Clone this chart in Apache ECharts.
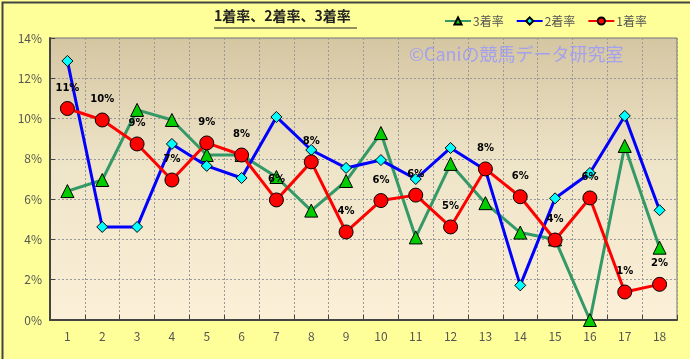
<!DOCTYPE html>
<html><head><meta charset="utf-8">
<script src="https://cdn.jsdelivr.net/npm/echarts@6/dist/echarts.min.js"></script>
<style>html,body{margin:0;padding:0;background:#FFFF99;}#c{width:690px;height:359px;}</style>
</head><body><div id="c"></div>
<script>
const categories = ['1','2','3','4','5','6','7','8','9','10','11','12','13','14','15','16','17','18'];
const win = [10.5, 9.93, 8.74, 6.95, 8.79, 8.19, 5.96, 7.85, 4.37, 5.93, 6.2, 4.62, 7.5, 6.12, 3.97, 6.06, 1.39, 1.77];
const second = [12.86, 4.62, 4.62, 8.74, 7.65, 7.05, 10.08, 8.44, 7.55, 7.94, 7.0, 8.54, 7.45, 1.72, 6.04, 7.3, 10.13, 5.45];
const third = [6.4, 6.95, 10.43, 9.93, 8.19, 8.19, 7.1, 5.43, 6.9, 9.28, 4.1, 7.75, 5.8, 4.34, 4.0, 0, 8.64, 3.59];
const yTicks = [0, 2, 4, 6, 8, 10, 12, 14];

const chart = echarts.init(document.getElementById('c'), null, {renderer: 'canvas'});
const font = '"Noto Sans CJK JP", "DejaVu Sans", sans-serif';
chart.setOption({
  animation: false,
  backgroundColor: '#FFFF99',
  textStyle: {fontFamily: font},
  graphic: [
    {type: 'rect', left: 0, top: 0, shape: {width: 689, height: 358}, style: {fill: 'none', stroke: '#444', lineWidth: 2}, z: 100},
    {type: 'text', left: 214, top: 9, style: {text: '1着率、2着率、3着率', font: 'bold 14px ' + font, fill: '#222'}},
    {type: 'line', shape: {x1: 214, y1: 28, x2: 357, y2: 28}, style: {stroke: '#222', lineWidth: 1}},
    {type: 'text', left: 409, top: 45, z: 1, style: {text: '©Caniの競馬データ研究室', font: '18px ' + font, fill: 'rgba(150,150,255,0.8)'}}
  ],
  legend: {
    right: 38, top: 10, itemWidth: 26, itemHeight: 9, itemGap: 12,
    textStyle: {fontSize: 12, color: '#555', fontFamily: font, padding: [0, 0, 0, -3]},
    data: ['3着率', '2着率', '1着率']
  },
  grid: {
    left: 50, right: 13, top: 38, bottom: 39, show: true, borderColor: '#777', borderWidth: 1,
    backgroundColor: {type: 'linear', x: 0, y: 0, x2: 0, y2: 1, colorStops: [
      {offset: 0, color: '#D5C6A2'}, {offset: 0.45, color: '#EEE4C8'}, {offset: 1, color: '#FCF0D8'}]}
  },
  xAxis: {
    type: 'category', data: categories, boundaryGap: true,
    axisLine: {lineStyle: {color: '#444', width: 2}},
    axisTick: {show: true, inside: true, length: 5, lineStyle: {color: '#444'}},
    axisLabel: {color: '#555', fontSize: 12, margin: 10},
    splitLine: {show: true, lineStyle: {color: '#999', type: [2, 2], width: 1}}
  },
  yAxis: {
    type: 'value', min: 0, max: 14, interval: 2,
    axisLine: {show: true, lineStyle: {color: '#444', width: 2}},
    axisTick: {show: true, inside: true, length: 5, lineStyle: {color: '#444'}},
    axisLabel: {color: '#555', fontSize: 12, margin: 8, formatter: v => yTicks.includes(v) ? v + '%' : ''},
    splitLine: {show: true, lineStyle: {color: '#999', type: [2, 2], width: 1}}
  },
  series: [
    {name: '3着率', type: 'line', data: third, symbol: 'triangle', symbolSize: 13,
      lineStyle: {color: '#339966', width: 3}, itemStyle: {color: '#00CC00', borderColor: '#000', borderWidth: 1}, z: 3},
    {name: '2着率', type: 'line', data: second, symbol: 'diamond', symbolSize: 11,
      lineStyle: {color: '#0000FF', width: 3}, itemStyle: {color: '#00FFFF', borderColor: '#000', borderWidth: 1}, z: 4},
    {name: '1着率', type: 'line', data: win, symbol: 'circle', symbolSize: 14,
      lineStyle: {color: '#FF0000', width: 3}, itemStyle: {color: '#FF0000', borderColor: '#000', borderWidth: 1}, z: 5,
      label: {show: true, position: 'top', distance: 8, color: '#000', fontWeight: 'bold', fontSize: 10,
        fontFamily: '"DejaVu Sans", sans-serif', formatter: p => Math.round(p.value) + '%'}}
  ]
});
</script></body></html>
